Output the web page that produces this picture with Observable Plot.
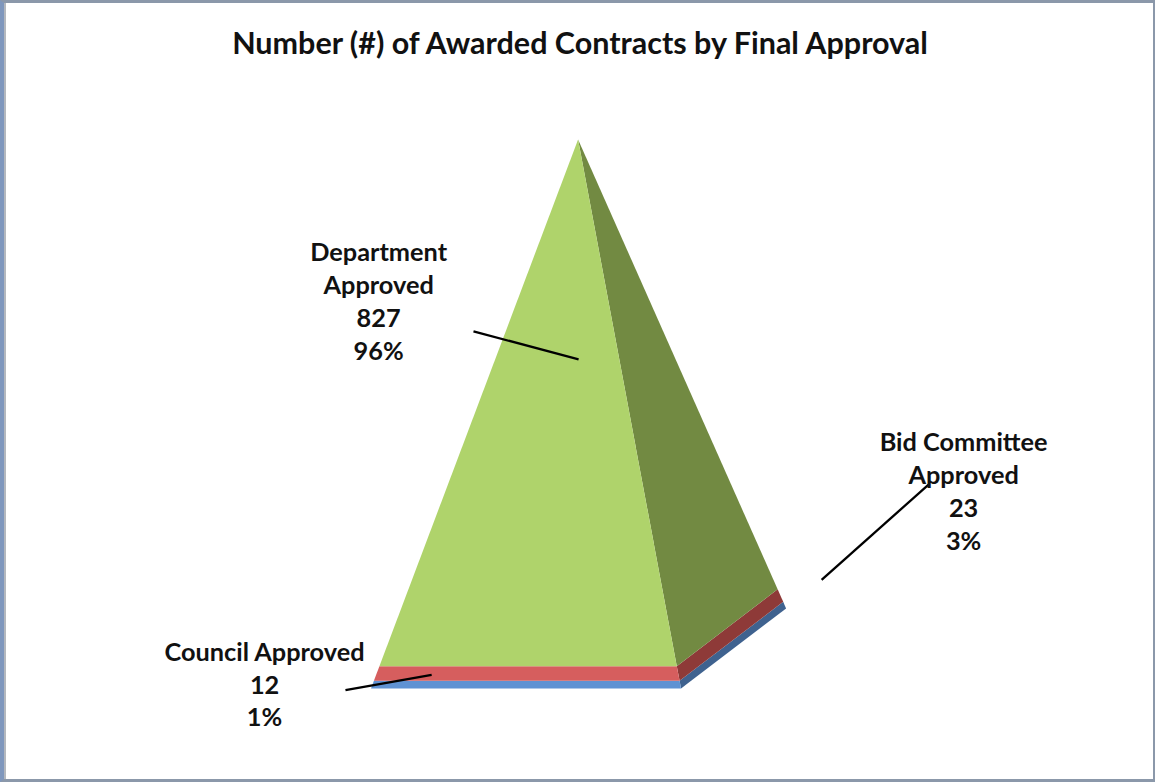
<!DOCTYPE html>
<html>
<head>
<meta charset="utf-8">
<script src="https://cdn.jsdelivr.net/npm/d3@7"></script>
<script src="https://cdn.jsdelivr.net/npm/@observablehq/plot@0.6"></script>
<style>
html,body{margin:0;padding:0;background:#fff}
#chart{position:relative;width:1155px;height:782px;overflow:hidden}
#chart svg{display:block}
#chart::after{content:"";position:absolute;inset:0;box-sizing:border-box;pointer-events:none;
  border-style:solid;border-width:3px 2px 3px 4px;border-color:#8b98aa #8b98aa #8b98aa #7f97bd;
  box-shadow:inset 2px 0 0 #b4b8be}
</style>
</head>
<body>
<div id="chart"></div>
<script>
const chartTitle = "Number (#) of Awarded Contracts by Final Approval";
const categories = ["Council Approved", "Bid Committee Approved", "Department Approved"];
const labelLines = ["Council Approved", "Bid Committee\nApproved", "Department\nApproved"];
const contracts = [12, 23, 827];
const frontColors = ["#5f92d3", "#d65e5e", "#afd36b"];
const sideColors = ["#3f628f", "#8e3a38", "#728a42"];
// Label and leader anchors, in chart units (x: base widths, y: contracts)
const labelX = [-0.345, 1.91, 0.023];
const labelY = [9.5, 312, 611];
const leaderX1 = [-0.084, 1.452, 0.329];
const leaderY1 = [-1.6, 171.5, 561.6];
const leaderX2 = [0.194, 1.797, 0.668];
const leaderY2 = [22, 320.9, 517.5];

const total = d3.sum(contracts);
// Pyramid in chart units: base corners and apex of the projected solid
const frontLeft = [0, 0], frontRight = [1, 0], backRight = [1.339, 125.8], apex = [0.668, total];
const along = (corner, t) => [corner[0] + (apex[0] - corner[0]) * t, corner[1] + (apex[1] - corner[1]) * t];

const cumulative = d3.cumsum(contracts);
const facets = [];
categories.forEach((name, i) => {
  const t0 = (cumulative[i] - contracts[i]) / total, t1 = cumulative[i] / total;
  const piece = (id, a, b, color) => {
    for (const c of [a, b]) {
      const lo = along(c, t0), hi = along(c, t1);
      facets.push({id, color, x1: lo[0], y1: lo[1], x2: hi[0], y2: hi[1]});
    }
  };
  piece(name + " side", frontRight, backRight, sideColors[i]);
  piece(name + " front", frontLeft, frontRight, frontColors[i]);
});

const labels = categories.map((name, i) => ({
  text: `${labelLines[i]}\n${contracts[i]}\n${Math.round(contracts[i] / total * 100)}%`,
  x: labelX[i], y: labelY[i]
}));
const leaders = categories.map((name, i) => ({x1: leaderX1[i], y1: leaderY1[i], x2: leaderX2[i], y2: leaderY2[i]}));

const font = "Lato, 'Open Sans', sans-serif";
const plot = Plot.plot({
  width: 1155, height: 782,
  marginTop: 0, marginRight: 0, marginBottom: 0, marginLeft: 0,
  style: {background: "#fff", fontFamily: font},
  x: {axis: null, domain: [0, 1], range: [371, 681]},
  y: {axis: null, domain: [0, total], range: [688.5, 139.5]},
  color: {type: "identity"},
  marks: [
    Plot.area(facets, {x1: "x1", y1: "y1", x2: "x2", y2: "y2", z: "id", fill: "color", curve: "linear"}),
    Plot.link(leaders, {x1: "x1", y1: "y1", x2: "x2", y2: "y2", stroke: "#000", strokeWidth: 2.3}),
    Plot.text(labels, {x: "x", y: "y", text: "text", fontSize: 25.3, fontWeight: 700, lineHeight: 1.304, fill: "#111", textAnchor: "middle"}),
    Plot.text([chartTitle], {frameAnchor: "top-left", dx: 579.5, dy: 44, text: d => d, fontSize: 30.5, fontWeight: 700, fill: "#111", textAnchor: "middle", lineAnchor: "middle"})
  ]
});
document.getElementById("chart").appendChild(plot);
</script>
</body>
</html>
